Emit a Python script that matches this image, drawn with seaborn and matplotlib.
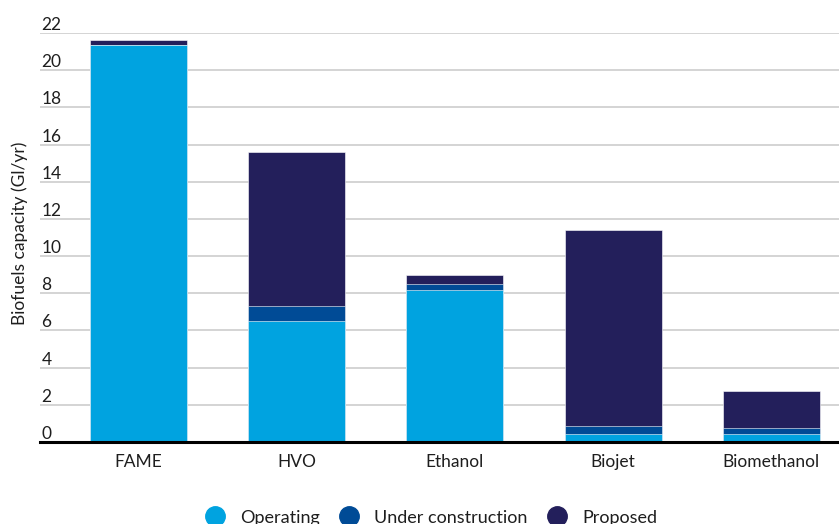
import numpy as np
import pandas as pd
import matplotlib
matplotlib.use("Agg")
import matplotlib.pyplot as plt
from matplotlib.lines import Line2D
import seaborn as sns

sns.set_theme(style="white")
plt.rcParams['font.family'] = ['Lato', 'DejaVu Sans']

# data (Gl/yr)
fuels = ["FAME", "HVO", "Ethanol", "Biojet", "Biomethanol"]
operating = [21.38, 6.5, 8.2, 0.45, 0.45]
under_construction = [0.0, 0.8, 0.3, 0.4, 0.3]
proposed = [0.22, 8.3, 0.5, 10.55, 2.0]
yticks = [0, 2, 4, 6, 8, 10, 12, 14, 16, 18, 20, 22]

col_op = "#00a3e0"
col_uc = "#004b96"
col_pr = "#231f5b"

df = pd.DataFrame({"fuel": fuels, "op": operating,
                   "uc": under_construction, "pr": proposed})
df["lvl2"] = df["op"] + df["uc"]
df["lvl3"] = df["lvl2"] + df["pr"]

fig = plt.figure(figsize=(8.39, 5.24), dpi=100)
ax = fig.add_axes([0.0477, 0.1565, 0.9523, 0.7805])

# stacked bars drawn as layered cumulative totals
for col, c in [("lvl3", col_pr), ("lvl2", col_uc), ("op", col_op)]:
    sns.barplot(data=df, x="fuel", y=col, color=c, width=0.613,
                saturation=1, edgecolor="white", linewidth=0.4, ax=ax, zorder=3)

ax.set_xlim(-0.622, 4.427)
ax.set_ylim(0, 22)
ax.set_yticks(yticks)
ax.set_yticklabels([str(v) for v in yticks], ha="left", va="bottom", fontsize=12.5, color="#1e1e1e")
ax.tick_params(axis="y", length=0, pad=-1)
ax.tick_params(axis="x", length=0, pad=9, labelsize=12.5, labelcolor="#1e1e1e")
ax.yaxis.grid(True, color="#d4d4d4", linewidth=1.4, zorder=0)
ax.set_axisbelow(True)
for s in ["top", "right", "left"]:
    ax.spines[s].set_visible(False)
ax.spines["bottom"].set_color("black")
ax.spines["bottom"].set_linewidth(2.2)
ax.spines["bottom"].set_zorder(5)
ax.set_xlabel("")
ax.set_ylabel("Biofuels capacity (Gl/yr)", fontsize=12.5, color="#1e1e1e", labelpad=2)
ax.yaxis.set_label_coords(-0.0145, 0.51)

handles = [Line2D([], [], marker="o", linestyle="", markersize=14, color=c)
           for c in [col_op, col_uc, col_pr]]
fig.legend(handles, ["Operating", "Under construction", "Proposed"],
           loc="center", bbox_to_anchor=(427 / 839, 0.012), ncol=3, frameon=False,
           fontsize=13, handletextpad=0.4, columnspacing=0.6, labelcolor="#1e1e1e")

fig.savefig("out.png", dpi=100)
